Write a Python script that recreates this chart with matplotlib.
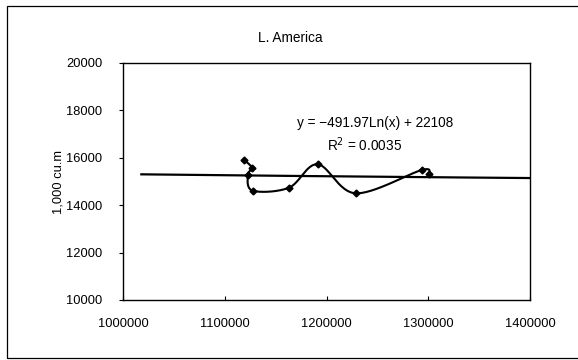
import matplotlib.pyplot as plt
import numpy as np
from matplotlib.patches import Rectangle

plt.rcParams['font.family'] = ['Liberation Sans', 'DejaVu Sans']

# Data
x_vals = [1119200, 1126500, 1122600, 1127500, 1163100, 1191300, 1228700, 1293600, 1300700]
y_vals = [15907, 15582, 15274, 14612, 14738, 15726, 14502, 15485, 15316]

# Logarithmic trendline, as printed on the chart
trend_a = -491.97
trend_b = 22108
trend_r2 = 0.0035
trend_range = [1018000, 1400000]

x_ticks = [1000000, 1100000, 1200000, 1300000, 1400000]
y_ticks = [10000, 12000, 14000, 16000, 18000, 20000]


def catmull_rom(xs, ys, n=30):
    """Smooth curve through the points (like Excel's smoothed line)."""
    p = np.column_stack([xs, ys]).astype(float)
    p = np.vstack([p[0], p, p[-1]])
    out = []
    t = np.linspace(0, 1, n)[:, None]
    for i in range(1, len(p) - 2):
        p0, p1, p2, p3 = p[i - 1], p[i], p[i + 1], p[i + 2]
        seg = 0.5 * ((2 * p1) + (-p0 + p2) * t
                     + (2 * p0 - 5 * p1 + 4 * p2 - p3) * t ** 2
                     + (-p0 + 3 * p1 - 3 * p2 + p3) * t ** 3)
        out.append(seg)
    out = np.vstack(out)
    return out[:, 0], out[:, 1]


fig = plt.figure(figsize=(5.78, 3.6), dpi=100)
ax = fig.add_axes([123 / 578, 1 - 300 / 360, 407 / 578, 237 / 360])

# outer chart border
fig.patches.append(Rectangle((7 / 578, 2 / 360), 575 / 578, 352 / 360,
                             transform=fig.transFigure, fill=False,
                             edgecolor='black', linewidth=0.9))

sx, sy = catmull_rom(x_vals, y_vals)
ax.plot(sx, sy, color='black', linewidth=1.5)
ax.plot(x_vals, y_vals, linestyle='none', marker='D', markersize=3.5,
        color='black')

tx = np.linspace(trend_range[0], trend_range[1], 200)
ax.plot(tx, trend_a * np.log(tx) + trend_b, color='black', linewidth=1.6)

ax.set_xlim(1000000, 1400000)
ax.set_ylim(10000, 20000)
ax.set_xticks(x_ticks)
ax.set_yticks(y_ticks)
ax.set_xticklabels([str(v) for v in x_ticks])
ax.set_yticklabels([str(v) for v in y_ticks])
ax.tick_params(axis='x', direction='in', length=3, pad=13, labelsize=9.3)
ax.tick_params(axis='y', direction='out', length=3, pad=12, labelsize=9.3)
for s in ax.spines.values():
    s.set_linewidth(1.0)

ax.set_ylabel('1,000 cu.m', fontsize=9.3, labelpad=1)

fig.text(290 / 578, 1 - 38 / 360, 'L. America', ha='center', va='center',
         fontsize=9.8)
fig.text(375 / 578, 1 - 123 / 360,
         f'y = \u2212{abs(trend_a):.2f}Ln(x) + {trend_b}',
         ha='center', va='center', fontsize=9.8)
fig.text(365 / 578, 1 - 145 / 360, f'R$^2$ = {trend_r2}',
         ha='center', va='center', fontsize=9.8)

fig.savefig('out.png', dpi=100)
